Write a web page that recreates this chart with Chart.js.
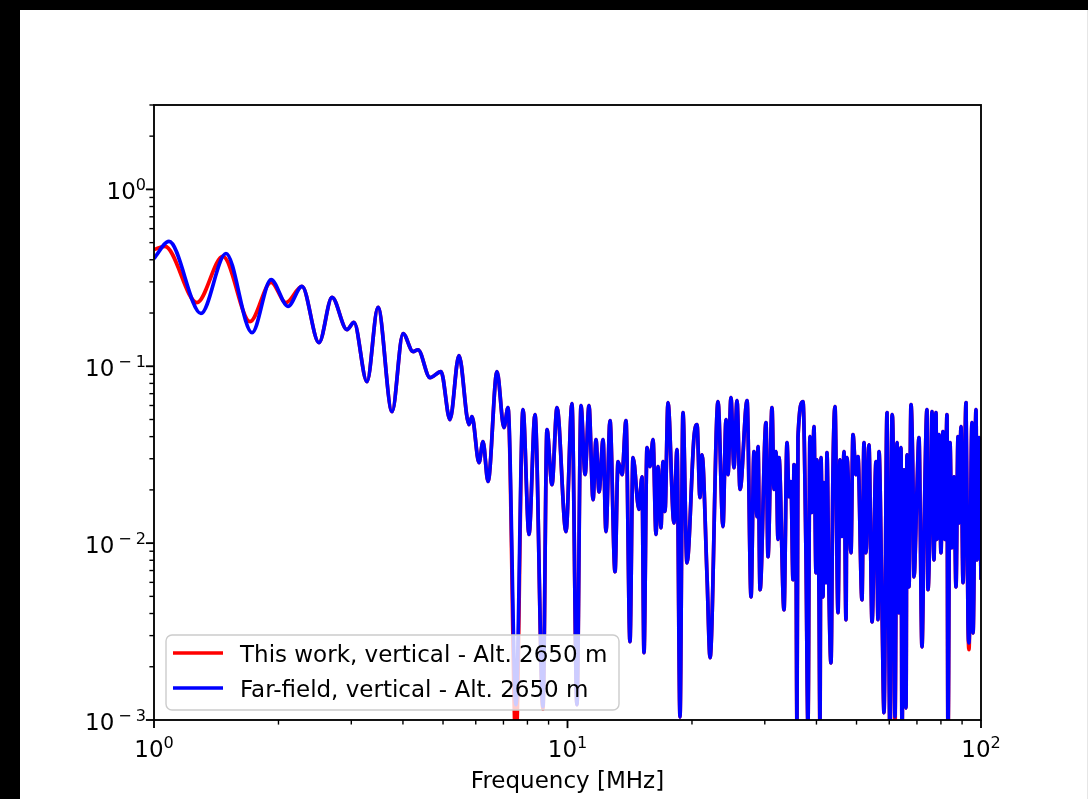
<!DOCTYPE html>
<html>
<head>
<meta charset="utf-8">
<title>Vertical field spectrum - Alt. 2650 m</title>
<script src="https://cdn.jsdelivr.net/npm/chart.js@4.4.1/dist/chart.umd.min.js"></script>
<style>
html,body{margin:0;padding:0;width:1088px;height:799px;overflow:hidden;background:#000;}
#fig{position:absolute;left:20px;top:10px;width:1067px;height:789px;background:#fff;border-right:1px solid #e6e6e6;}
#c{display:block;width:1067px;height:789px;}
</style>
</head>
<body>
<div id="fig"><canvas id="c" width="1067" height="789"></canvas></div>
<script>
// ---------------- data ----------------
const seriesLabels = ['This work, vertical - Alt. 2650 m', 'Far-field, vertical - Alt. 2650 m'];
const xAxisTitle = 'Frequency [MHz]';

const xMajorTicks = [1, 10, 100];
const xTickLabels = ['10^0', '10^1', '10^2'];
const yMajorTicks = [0.001, 0.01, 0.1, 1];
const yTickLabels = ['10^-3', '10^-2', '10^-1', '10^0'];

// Far-field (blue) series
const freqFarField = [1.000,1.087,1.299,1.493,1.726,1.919,2.109,2.280,2.506,2.695,2.929,3.045,3.274,3.481,3.764,4.002,4.231,4.350,4.651,4.944,5.197,5.464,5.778,5.875,6.109,6.247,6.424,6.753,7.020,7.179,7.505,7.805,8.070,8.344,8.723,8.920,9.172,9.432,9.917,10.25,10.54,10.78,11.03,11.27,11.53,11.72,11.92,12.19,12.39,12.67,13.03,13.25,13.55,13.85,14.16,14.40,14.89,15.14,15.31,15.57,15.83,16.10,16.37,16.55,16.83,17.02,17.21,17.50,18.09,18.40,18.71,19.02,19.45,20.23,20.57,20.91,21.15,21.75,22.12,23.12,23.77,24.17,24.44,24.85,25.27,25.70,26.14,27.18,27.79,28.25,28.74,28.89,29.22,30.20,30.54,31.23,31.58,31.93,32.29,32.47,33.39,33.95,34.33,34.71,35.10,35.30,35.69,35.89,36.09,37.11,37.73,38.15,38.58,39.01,39.45,39.90,40.12,40.57,40.79,41.02,41.48,41.71,42.17,42.41,42.89,43.37,43.86,44.35,45.10,45.60,46.11,46.63,47.15,47.41,48.48,49.02,49.84,50.40,51.54,52.12,52.70,53.58,54.51,55.74,56.35,56.67,57.62,58.27,59.25,59.58,60.25,60.93,61.27,61.94,62.65,63.35,64.05,64.41,65.13,65.86,66.22,66.97,67.72,68.47,68.86,70.01,70.79,71.99,72.79,74.02,74.43,75.69,76.11,76.95,77.82,78.25,79.13,80.02,80.92,81.81,82.74,83.20,84.14,85.09,86.04,87.00,87.99,88.48,89.46,90.48,91.99,93.03,93.54,95.11,95.66,97.25,97.79,98.90,100.0];
const farFieldVertical = [0.407,0.508,0.199,0.434,0.155,0.309,0.218,0.283,0.136,0.245,0.161,0.177,0.0819,0.215,0.0554,0.153,0.121,0.124,0.0863,0.0933,0.0499,0.115,0.0468,0.0519,0.0285,0.0375,0.0223,0.0933,0.0450,0.0584,0.00122,0.0569,0.0112,0.0533,0.00119,0.0438,0.0214,0.0584,0.0116,0.0615,0.00122,0.0599,0.0244,0.0599,0.0176,0.0385,0.0195,0.0385,0.0116,0.0493,0.00689,0.0289,0.0244,0.0493,0.00277,0.0304,0.0155,0.0237,0.00240,0.0347,0.0271,0.0385,0.0112,0.0271,0.0122,0.0289,0.0151,0.0623,0.0130,0.0338,0.00104,0.0547,0.00774,0.0400,0.0468,0.0181,0.0316,0.00645,0.00225,0.0631,0.0124,0.0499,0.0244,0.0665,0.0267,0.0640,0.0201,0.0640,0.00497,0.0329,0.0141,0.0351,0.00545,0.0480,0.00838,0.0584,0.0201,0.0329,0.0105,0.0304,0.00420,0.0370,0.0183,0.0223,0.00621,0.0278,0.0119,0.00095,0.0395,0.0631,0.00882,0.00093,0.0400,0.0149,0.0456,0.00680,0.0296,0.00524,0.00095,0.0304,0.00497,0.0220,0.00597,0.0325,0.00524,0.00210,0.0260,0.0591,0.00404,0.0296,0.0109,0.0329,0.00369,0.0304,0.00882,0.0411,0.0244,0.0308,0.00478,0.0370,0.00882,0.0360,0.00359,0.0289,0.00369,0.0329,0.00437,0.00110,0.0547,0.0136,0.0008,0.0533,0.0395,0.00104,0.0370,0.00404,0.0347,0.0008,0.0260,0.00117,0.0316,0.00566,0.0607,0.0220,0.00645,0.0201,0.0395,0.00259,0.0109,0.0569,0.00545,0.0271,0.0554,0.00805,0.0547,0.0105,0.0411,0.00882,0.0427,0.0105,0.0533,0.0008,0.0370,0.00942,0.0237,0.00566,0.0400,0.0130,0.0456,0.00597,0.0623,0.00354,0.00273,0.0480,0.00311,0.0569,0.00805,0.0395,0.00621];

// This work (red) series
const freqThisWork = [1.000,1.063,1.270,1.468,1.707,1.919,2.085,2.280,2.506,2.695,2.929,3.045,3.274,3.481,3.764,4.002,4.231,4.350,4.651,4.944,5.197,5.464,5.778,5.875,6.109,6.247,6.424,6.753,7.020,7.179,7.505,7.805,8.070,8.344,8.723,8.920,9.172,9.432,9.917,10.25,10.54,10.78,11.03,11.27,11.53,11.72,11.92,12.19,12.39,12.67,13.03,13.25,13.55,13.85,14.16,14.40,14.89,15.14,15.31,15.57,15.83,16.10,16.37,16.55,16.83,17.02,17.21,17.50,18.09,18.40,18.71,19.02,19.45,20.23,20.57,20.91,21.15,21.75,22.12,23.12,23.77,24.17,24.44,24.85,25.27,25.70,26.14,27.18,27.79,28.25,28.74,28.89,29.22,30.20,30.54,31.23,31.58,31.93,32.29,32.47,33.39,33.95,34.33,34.71,35.10,35.30,35.69,35.89,36.09,37.11,37.73,38.15,38.58,39.01,39.45,39.90,40.12,40.57,40.79,41.02,41.48,41.71,42.17,42.41,42.89,43.37,43.86,44.35,45.10,45.60,46.11,46.63,47.15,47.41,48.48,49.02,49.84,50.40,51.54,52.12,52.70,53.58,54.51,55.74,56.35,56.67,57.62,58.27,59.25,59.58,60.25,60.93,61.27,61.94,62.65,63.35,64.05,64.41,65.13,65.86,66.22,66.97,67.72,68.47,68.86,70.01,70.79,71.99,72.79,74.02,74.43,75.69,76.11,76.95,77.82,78.25,79.13,80.02,80.92,81.81,82.74,83.20,84.14,85.09,86.04,87.00,87.99,88.48,89.46,90.48,91.99,93.03,93.54,95.11,95.66,97.25,97.79,98.90,100.0];
const thisWorkVertical = [0.457,0.476,0.229,0.418,0.179,0.298,0.229,0.283,0.136,0.245,0.161,0.177,0.0819,0.215,0.0554,0.153,0.121,0.124,0.0863,0.0933,0.0499,0.115,0.0468,0.0519,0.0285,0.0375,0.0223,0.0933,0.0450,0.0584,0.0007,0.0569,0.0112,0.0533,0.00115,0.0438,0.0214,0.0584,0.0116,0.0615,0.00122,0.0599,0.0244,0.0599,0.0176,0.0385,0.0195,0.0385,0.0116,0.0493,0.00689,0.0289,0.0244,0.0493,0.00277,0.0304,0.0155,0.0237,0.00240,0.0347,0.0271,0.0385,0.0112,0.0271,0.0122,0.0289,0.0151,0.0623,0.0130,0.0338,0.00104,0.0547,0.00774,0.0400,0.0468,0.0181,0.0316,0.00645,0.00225,0.0631,0.0124,0.0499,0.0244,0.0665,0.0267,0.0640,0.0201,0.0640,0.00497,0.0329,0.0141,0.0351,0.00545,0.0480,0.00838,0.0584,0.0201,0.0329,0.0105,0.0304,0.00420,0.0370,0.0183,0.0223,0.00621,0.0278,0.0119,0.0008,0.0395,0.0631,0.00882,0.00093,0.0400,0.0149,0.0456,0.00680,0.0296,0.00524,0.0008,0.0304,0.00497,0.0220,0.00597,0.0325,0.00524,0.00210,0.0260,0.0591,0.00404,0.0296,0.0109,0.0329,0.00369,0.0304,0.00882,0.0411,0.0244,0.0308,0.00478,0.0370,0.00882,0.0360,0.00359,0.0289,0.00369,0.0329,0.00437,0.00110,0.0547,0.0136,0.0008,0.0533,0.0395,0.0009,0.0370,0.00404,0.0347,0.0008,0.0260,0.00117,0.0316,0.00566,0.0607,0.0220,0.00645,0.0201,0.0395,0.00259,0.0109,0.0569,0.00545,0.0271,0.0554,0.00805,0.0547,0.0105,0.0411,0.00882,0.0427,0.0105,0.0533,0.0007,0.0370,0.00942,0.0237,0.00566,0.0400,0.0130,0.0456,0.00597,0.0623,0.00354,0.0025,0.0480,0.00311,0.0569,0.00805,0.0395,0.00621];

const seriesColors = ['#ff0000', '#0000ff'];

// ---------------- rendering ----------------
const FONT = "'DejaVu Sans', 'Liberation Sans', sans-serif";
const BASE_PX = 23, SUP_PX = 16.1, SUP_RISE = 9, MINUS_GAP = 4;

function minorTicks(lo, hi) {
  const out = [];
  for (let e = Math.floor(Math.log10(lo)); e <= Math.ceil(Math.log10(hi)); e++) {
    for (let m = 1; m <= 9; m++) {
      const v = m * Math.pow(10, e);
      if (v >= lo * 0.9999 && v <= hi * 1.0001) out.push({v, major: m === 1});
    }
  }
  return out;
}

// draws "base^exp" like matplotlib mathtext; y = baseline of the base text
function drawPower(ctx, label, x, y, align) {
  const [base, exp] = label.split('^');
  const neg = exp.startsWith('-');
  const digits = neg ? exp.slice(1) : exp;
  ctx.font = BASE_PX + 'px ' + FONT;
  const wb = ctx.measureText(base).width;
  ctx.font = SUP_PX + 'px ' + FONT;
  const wm = neg ? ctx.measureText('\u2212').width + 2 * MINUS_GAP : 0;
  const wd = ctx.measureText(digits).width;
  const total = wb + wm + wd;
  const x0 = align === 'right' ? x - total : x - total / 2;
  ctx.textAlign = 'left';
  ctx.textBaseline = 'alphabetic';
  ctx.font = BASE_PX + 'px ' + FONT;
  ctx.fillText(base, x0, y);
  ctx.font = SUP_PX + 'px ' + FONT;
  if (neg) ctx.fillText('\u2212', x0 + wb + MINUS_GAP, y - SUP_RISE);
  ctx.fillText(digits, x0 + wb + wm, y - SUP_RISE);
}

const mplAxes = {
  id: 'mplAxes',
  afterDatasetsDraw(chart) {
    const {ctx, chartArea: a, scales: {x, y}} = chart;
    ctx.save();
    ctx.strokeStyle = '#000';
    ctx.lineCap = 'butt';
    minorTicks(x.min, x.max).forEach(t => {
      const px = x.getPixelForValue(t.v);
      ctx.lineWidth = t.major ? 1.85 : 1.4;
      ctx.beginPath();
      ctx.moveTo(px, a.bottom);
      ctx.lineTo(px, a.bottom + (t.major ? 8.1 : 4.6));
      ctx.stroke();
    });
    minorTicks(y.min, y.max).forEach(t => {
      const py = y.getPixelForValue(t.v);
      ctx.lineWidth = t.major ? 1.85 : 1.4;
      ctx.beginPath();
      ctx.moveTo(a.left, py);
      ctx.lineTo(a.left - (t.major ? 8.1 : 4.6), py);
      ctx.stroke();
    });
    ctx.lineWidth = 1.85;
    ctx.lineJoin = 'miter';
    ctx.strokeRect(a.left, a.top, a.right - a.left, a.bottom - a.top);
    // tick labels
    ctx.fillStyle = '#000';
    xMajorTicks.forEach((v, i) => drawPower(ctx, xTickLabels[i], x.getPixelForValue(v), a.bottom + 37, 'center'));
    yMajorTicks.forEach((v, i) => drawPower(ctx, yTickLabels[i], a.left - 8, y.getPixelForValue(v) + 10, 'right'));
    ctx.restore();
  },
  afterDraw(chart) {
    const {ctx, chartArea: a} = chart;
    const bx = a.left + 12, by = a.bottom - 85, bw = 453, bh = 75;
    ctx.save();
    ctx.beginPath();
    ctx.roundRect(bx, by, bw, bh, 6);
    ctx.fillStyle = 'rgba(255,255,255,0.8)';
    ctx.fill();
    ctx.lineWidth = 1.4;
    ctx.strokeStyle = '#cccccc';
    ctx.stroke();
    ctx.font = BASE_PX + 'px ' + FONT;
    ctx.textBaseline = 'alphabetic';
    ctx.textAlign = 'left';
    chart.data.datasets.forEach((ds, i) => {
      const ry = by + 18 + i * 35;
      ctx.strokeStyle = ds.borderColor;
      ctx.lineWidth = 3.7;
      ctx.beginPath();
      ctx.moveTo(bx + 7, ry);
      ctx.lineTo(bx + 57, ry);
      ctx.stroke();
      ctx.fillStyle = '#000';
      ctx.fillText(ds.label, bx + 74, ry + 9);
    });
    ctx.restore();
  }
};

const toPoints = (fs, vs) => fs.map((f, i) => ({x: f, y: vs[i]}));

new Chart(document.getElementById('c'), {
  type: 'line',
  data: {
    datasets: [
      {label: seriesLabels[0], data: toPoints(freqThisWork, thisWorkVertical), borderColor: seriesColors[0], backgroundColor: seriesColors[0], order: 2},
      {label: seriesLabels[1], data: toPoints(freqFarField, farFieldVertical), borderColor: seriesColors[1], backgroundColor: seriesColors[1], order: 1}
    ]
  },
  options: {
    responsive: false,
    animation: false,
    devicePixelRatio: 1,
    parsing: false,
    layout: {padding: {left: 0, top: 95, right: 106, bottom: 0}},
    plugins: {legend: {display: false}, tooltip: {enabled: false}, title: {display: false}},
    elements: {
      point: {radius: 0, hoverRadius: 0},
      line: {borderWidth: 3.7, cubicInterpolationMode: 'monotone', borderJoinStyle: 'round', fill: false}
    },
    scales: {
      x: {
        type: 'logarithmic', position: 'bottom', min: 1, max: 100,
        grid: {display: false}, border: {display: false},
        afterBuildTicks: s => { s.ticks = xMajorTicks.map(v => ({value: v, major: true})); },
        afterFit: s => { s.height = 79; },
        ticks: {autoSkip: false, maxRotation: 0, minRotation: 0, padding: 17, color: '#000',
                font: {family: FONT, size: 23}, callback: () => ''},
        title: {display: true, text: xAxisTitle, color: '#000', font: {family: FONT, size: 23, lineHeight: 1.2}, padding: {top: 0, bottom: 3}}
      },
      y: {
        type: 'logarithmic', position: 'left', min: 0.001, max: 3,
        grid: {display: false}, border: {display: false},
        afterBuildTicks: s => { s.ticks = yMajorTicks.map(v => ({value: v, major: true})); },
        afterFit: s => { s.width = 134; },
        ticks: {autoSkip: false, padding: 8, color: '#000',
                font: {family: FONT, size: 23}, callback: () => ''}
      }
    }
  },
  plugins: [mplAxes]
});
</script>
</body>
</html>
